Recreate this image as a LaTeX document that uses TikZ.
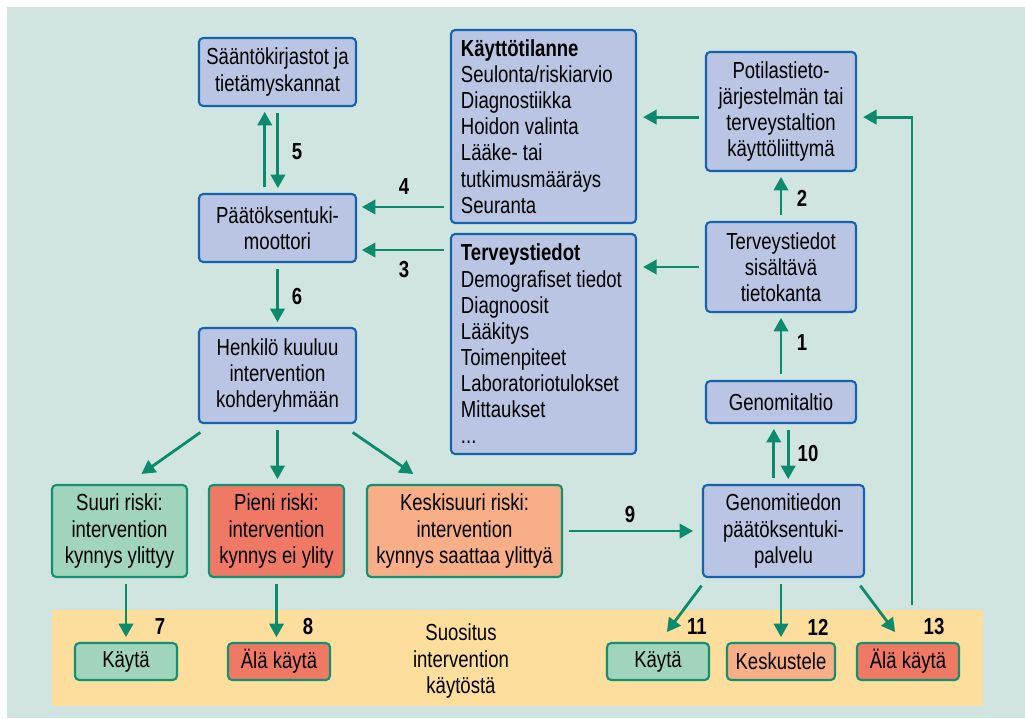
\documentclass[tikz,border=0pt]{standalone}
\usepackage{fontspec}
\setmainfont[FakeStretch=0.8]{Liberation Sans}
\usetikzlibrary{arrows.meta}
\definecolor{bg}{HTML}{D0E5DF}
\definecolor{band}{HTML}{FDDE9C}
\definecolor{boxblue}{HTML}{1762B0}
\definecolor{fillblue}{HTML}{B9C5E3}
\definecolor{teal}{HTML}{13906F}
\definecolor{fillgreen}{HTML}{A0D4BC}
\definecolor{fillred}{HTML}{F07966}
\definecolor{fillorange}{HTML}{F8AE86}
\definecolor{arrgreen}{HTML}{0B8B6B}

\begin{document}
\begin{tikzpicture}[x=0.025cm, y=-0.025cm,
    every node/.style={font=\fontsize{16.5}{18.6}\selectfont},
    bluebox/.style={draw=boxblue, fill=fillblue, line width=1.5pt, rounded corners=3pt, align=center, inner sep=0pt},
    listbox/.style={bluebox, align=flush left, inner xsep=0.25cm, text width=4.125cm, minimum height=#1},
    riskbox/.style={draw=teal, fill=#1, line width=1.5pt, rounded corners=3pt, align=center, inner sep=0pt, minimum height=2.3cm},
    usebox/.style={draw=teal, fill=#1, line width=1.5pt, rounded corners=3pt, inner sep=0pt, minimum height=0.925cm, minimum width=2.55cm},
    num/.style={font=\fontsize{16.5}{18.6}\selectfont\bfseries},
    arr/.style={draw=arrgreen, line width=2pt, -{Triangle[length=0.34cm,width=0.36cm]}, shorten <=0.15cm, shorten >=0.12cm}]
    \useasboundingbox (0,0) rectangle (1025,718);
    \fill[bg] (7,7) rectangle (1025,718);
    \fill[band] (52,610) rectangle (983,706);

    \node[bluebox, minimum width=3.925cm, minimum height=1.7cm] (sk) at (277.5,72) {Sääntökirjastot ja\\tietämyskannat};
    \node[bluebox, minimum width=3.925cm, minimum height=1.7cm] (pm) at (277.5,228) {Päätöksentuki-\\moottori};
    \node[bluebox, minimum width=3.925cm, minimum height=2.375cm] (hk) at (277.5,375.5) {Henkilö kuuluu\\intervention\\kohderyhmään};
    \node[listbox=4.825cm] (kt) at (543.5,126.5) {\textbf{Käyttötilanne}\\Seulonta/riskiarvio\\Diagnostiikka\\Hoidon valinta\\Lääke- tai\\tutkimusmääräys\\Seuranta};
    \node[listbox=5.5cm] (tt) at (543.5,344) {\textbf{Terveystiedot}\\Demografiset tiedot\\Diagnoosit\\Lääkitys\\Toimenpiteet\\Laboratoriotulokset\\Mittaukset\\...};
    \node[bluebox, minimum width=3.75cm, minimum height=2.975cm] (pj) at (781,111.5) {Potilastieto-\\järjestelmän tai\\terveystaltion\\käyttöliittymä};
    \node[bluebox, minimum width=3.75cm, minimum height=2.25cm] (tk) at (781,267) {Terveystiedot\\sisältävä\\tietokanta};
    \node[bluebox, minimum width=3.75cm, minimum height=1.05cm] (gt) at (781,402) {Genomitaltio};
    \node[bluebox, minimum width=4.025cm, minimum height=2.3cm] (gp) at (783.5,531) {Genomitiedon\\päätöksentuki-\\palvelu};

    \node[riskbox=fillgreen, minimum width=3.375cm] (sr) at (119.5,531) {Suuri riski:\\intervention\\kynnys ylittyy};
    \node[riskbox=fillred, minimum width=3.375cm] (pr) at (276.5,531) {Pieni riski:\\intervention\\kynnys ei ylity};
    \node[riskbox=fillorange, minimum width=4.875cm] (kr) at (464.5,531) {Keskisuuri riski:\\intervention\\kynnys saattaa ylittyä};

    \node[usebox=fillgreen] (k7) at (126,661.5) {Käytä};
    \node[usebox=fillred] (a8) at (279,661.5) {Älä käytä};
    \node[align=center] (su) at (461,661) {Suositus\\intervention\\käytöstä};
    \node[usebox=fillgreen] (k11) at (658,661.5) {Käytä};
    \node[usebox=fillorange, minimum width=2.7cm] (ke12) at (781,661.5) {Keskustele};
    \node[usebox=fillred] (a13) at (908,661.5) {Älä käytä};

    \node[num] (n1) at (802,343) {1};
    \node[num] (n2) at (802,198) {2};
    \node[num] (n3) at (404,270) {3};
    \node[num] (n4) at (404,187) {4};
    \node[num] (n5) at (297,152) {5};
    \node[num] (n6) at (297,297) {6};
    \node[num] (n7) at (160,627) {7};
    \node[num] (n8) at (308,627) {8};
    \node[num] (n9) at (630,515) {9};
    \node[num] (n10) at (808,454) {10};
    \node[num] (n11) at (697,627) {11};
    \node[num] (n12) at (818,627) {12};
    \node[num] (n13) at (934,627) {13};

    \coordinate (a4) at ([yshift=0.525cm]pm.east);
    \coordinate (a3) at ([yshift=-0.55cm]pm.east);
    \coordinate (pw) at ([yshift=-0.14cm]pj.west);
    \coordinate (pe) at ([yshift=-0.14cm]pj.east);
    \coordinate (fb) at (912,605);

    \draw[arr] ([xshift=-0.32cm]pm.north) -- ([xshift=-0.32cm]sk.south);
    \draw[arr] ([xshift=0.01cm]sk.south) -- ([xshift=0.01cm]pm.north);
    \draw[arr] (a4 -| kt.west) -- (a4);
    \draw[arr] (a3 -| tt.west) -- (a3);
    \draw[arr] (pm.south) -- (hk.north);
    \draw[arr, shorten <=0.05cm] ([xshift=0.1cm,yshift=-0.18cm]hk.south west) -- ([xshift=0.45cm,yshift=0.18cm]sr.north);
    \draw[arr] (hk.south) -- (hk.south |- pr.north);
    \draw[arr, shorten <=0.05cm] ([xshift=-0.15cm,yshift=-0.18cm]hk.south east) -- ([xshift=-1.18cm,yshift=0.18cm]kr.north);
    \draw[arr] (sr.south -| k7.north) -- (k7.north);
    \draw[arr] (pr.south) -- (pr.south |- a8.north);
    \draw[arr, shorten >=0.22cm] (kr.east) -- (gp.west);
    \draw[arr] ([xshift=-0.18cm]gt.south |- gp.north) -- ([xshift=-0.18cm]gt.south);
    \draw[arr] ([xshift=0.18cm]gt.south) -- ([xshift=0.18cm]gt.south |- gp.north);
    \draw[arr] (gt.north) -- (tk.south);
    \draw[arr] (tk.north) -- (pj.south);
    \draw[arr, shorten >=0.15cm] (pw) -- (pw -| kt.east);
    \draw[arr, shorten >=0.15cm] (tk.west) -- (tk.west -| tt.east);
    \draw[arr, shorten <=0.05cm] ([xshift=0.02cm,yshift=-0.15cm]gp.south west) -- ([xshift=0.15cm,yshift=0.15cm]k11.north);
    \draw[arr] (gp.south -| ke12.north) -- (ke12.north);
    \draw[arr, shorten <=0.05cm] ([xshift=-0.15cm,yshift=-0.15cm]gp.south east) -- ([xshift=-0.25cm,yshift=0.15cm]a13.north);
    \draw[arr, shorten <=0cm, shorten >=0.15cm] (fb) |- (pe);
\end{tikzpicture}
\end{document}
